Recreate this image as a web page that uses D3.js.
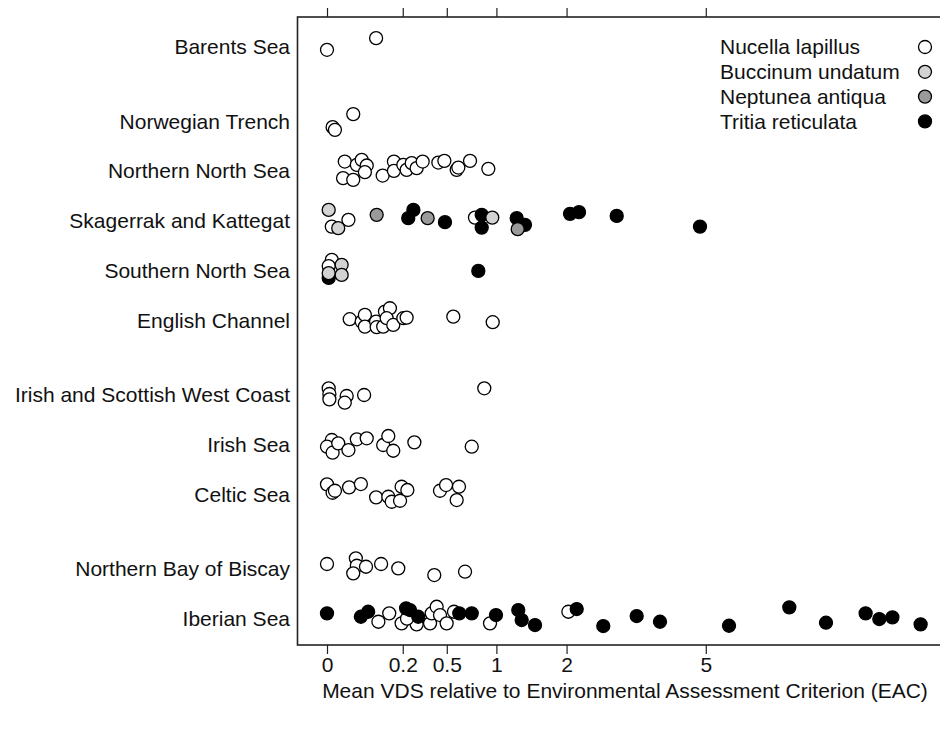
<!DOCTYPE html>
<html>
<head>
<meta charset="utf-8">
<script src="https://cdn.jsdelivr.net/npm/d3@7"></script>
<style>
body{margin:0;background:#fff}
svg{display:block;font-family:"Liberation Sans",Arial,sans-serif}
</style>
</head>
<body>
<svg id="chart" width="940" height="729"></svg>
<script>
var regions = ["Barents Sea", "Norwegian Trench", "Northern North Sea", "Skagerrak and Kattegat",
  "Southern North Sea", "English Channel", "Irish and Scottish West Coast", "Irish Sea",
  "Celtic Sea", "Northern Bay of Biscay", "Iberian Sea"];
var regionGroup = [1, 2, 2, 2, 2, 2, 3, 3, 3, 4, 4]; // OSPAR region, gap between groups
var speciesNames = ["Nucella lapillus", "Buccinum undatum", "Neptunea antiqua", "Tritia reticulata"];
var tickValues = [0, 0.2, 0.5, 1, 2, 5];
var xTitle = "Mean VDS relative to Environmental Assessment Criterion (EAC)";

// [region index, mean VDS / EAC, jitter]
var nucella = [
  [0, 0.00, 0.06], [0, 0.084, -0.175],
  [1, 0.0011, 0.115], [1, 0.0022, 0.17], [1, 0.024, -0.147],
  [2, 0.011, -0.193], [2, 0.009, 0.141], [2, 0.024, 0.175], [2, 0.031, -0.127], [2, 0.042, -0.227],
  [2, 0.055, -0.113], [2, 0.050, 0.02], [2, 0.108, 0.089], [2, 0.156, -0.193], [2, 0.156, -0.006],
  [2, 0.203, -0.127], [2, 0.221, -0.026], [2, 0.25, -0.161], [2, 0.28, -0.06], [2, 0.319, -0.193],
  [2, 0.432, -0.173], [2, 0.48, -0.207], [2, 0.586, -0.026], [2, 0.601, -0.072], [2, 0.713, -0.207],
  [2, 0.907, -0.046],
  [3, 0.0008, 0.115], [3, 0.016, -0.02], [3, 0.763, -0.066],
  [4, 0.0008, -0.215], [4, 0.0001, -0.09],
  [5, 0.018, -0.022], [5, 0.042, 0.026], [5, 0.050, -0.109], [5, 0.050, 0.127], [5, 0.084, 0.026],
  [5, 0.086, 0.139], [5, 0.11, 0.127], [5, 0.117, -0.175], [5, 0.138, -0.243], [5, 0.124, -0.042],
  [5, 0.153, 0.093], [5, 0.203, -0.042], [5, 0.221, -0.054], [5, 0.556, -0.074], [5, 0.957, 0.038],
  [6, 0.0001, -0.133], [6, 0.0002, -0.018], [6, 0.0002, 0.089], [6, 0.0135, 0.022], [6, 0.011, 0.157],
  [6, 0.048, 0.002], [6, 0.862, -0.133],
  [7, 0.0008, -0.093], [7, 0.00, 0.042], [7, 0.0011, 0.163], [7, 0.0044, -0.026], [7, 0.016, 0.109],
  [7, 0.031, -0.107], [7, 0.055, -0.127], [7, 0.11, 0.008], [7, 0.131, -0.173], [7, 0.153, 0.123],
  [7, 0.266, -0.046], [7, 0.73, 0.042],
  [8, 0.00, -0.201], [8, 0.0011, -0.032], [8, 0.0022, -0.072], [8, 0.017, -0.141], [8, 0.040, -0.207],
  [8, 0.084, 0.06], [8, 0.131, 0.048], [8, 0.146, 0.149], [8, 0.186, 0.129], [8, 0.194, -0.153],
  [8, 0.225, -0.087], [8, 0.445, -0.072], [8, 0.494, -0.187], [8, 0.607, -0.153], [8, 0.586, 0.115],
  [9, 0.00, -0.099], [9, 0.029, -0.213], [9, 0.031, -0.064], [9, 0.024, 0.089], [9, 0.053, -0.044],
  [9, 0.102, -0.099], [9, 0.177, -0.012], [9, 0.401, 0.123], [9, 0.664, 0.056],
  [10, 0.092, 0.062], [10, 0.135, -0.107], [10, 0.194, 0.095], [10, 0.28, 0.115], [10, 0.37, 0.095],
  [10, 0.382, -0.107], [10, 0.419, -0.239], [10, 0.445, -0.072], [10, 0.499, 0.095], [10, 0.562, -0.139],
  [10, 0.223, 0.0], [10, 0.926, 0.095], [10, 2.03, -0.139]
];
var buccinum = [
  [3, 0.0001, -0.221], [3, 0.0044, 0.147], [3, 0.952, -0.066],
  [4, 0.0001, 0.052], [4, 0.0075, -0.115], [4, 0.0075, 0.087]
];
var neptunea = [
  [3, 0.086, -0.121], [3, 0.353, -0.054], [3, 1.267, 0.167]
];
var tritia = [
  [3, 0.26, -0.221], [3, 0.23, -0.054], [3, 0.485, 0.026], [3, 0.834, -0.121], [3, 0.834, 0.135],
  [3, 1.254, -0.054], [3, 1.366, 0.08], [3, 2.058, -0.141], [3, 2.213, -0.175], [3, 2.925, -0.1],
  [3, 4.848, 0.115],
  [4, 0.0001, 0.147], [4, 0.798, 0.006],
  [10, 0.00, -0.107], [10, 0.040, -0.038], [10, 0.059, -0.139], [10, 0.218, -0.207], [10, 0.24, -0.173],
  [10, 0.29, -0.038], [10, 0.61, -0.107], [10, 0.73, -0.107], [10, 0.995, -0.072], [10, 1.275, -0.173],
  [10, 1.321, 0.028], [10, 1.508, 0.129], [10, 2.173, -0.193], [10, 2.66, 0.149], [10, 3.342, -0.052],
  [10, 3.864, 0.062], [10, 5.632, 0.143], [10, 7.448, -0.227], [10, 8.677, 0.082], [10, 10.11, -0.107],
  [10, 10.63, 0.008], [10, 11.14, -0.026], [10, 12.28, 0.115]
];
var speciesData = [nucella, buccinum, neptunea, tritia];
var speciesFill = ["#ffffff", "#d3d3d3", "#9a9a9a", "#000000"];
var drawOrder = [0, 3, 1, 2];

var svg = d3.select("#chart");
var box = {left: 297.5, right: 952, top: 17, bottom: 645};
var fontSize = 21;

var x = d3.scaleSqrt().domain([0, 13]).range([327, 327 + 169.4 * Math.sqrt(13)]);
var y = d3.scaleLinear().domain([-0.6, 12.03]).range([box.top, box.bottom]);
var rowPos = regions.map(function(d, i) { return i + 0.5 * (regionGroup[i] - 1); });

// frame
svg.append("rect")
  .attr("x", box.left).attr("y", box.top)
  .attr("width", box.right - box.left).attr("height", box.bottom - box.top)
  .attr("fill", "none").attr("stroke", "#222").attr("stroke-width", 1.6);

// axes top + bottom
var bottomAxis = d3.axisBottom(x).tickValues(tickValues).tickSize(9).tickPadding(3)
  .tickFormat(d3.format("~g"));
var gb = svg.append("g").attr("transform", "translate(0," + box.bottom + ")").call(bottomAxis);
gb.select(".domain").remove();
gb.selectAll("text").attr("font-size", fontSize).attr("font-family", "inherit").attr("fill", "#111");
gb.selectAll("line").attr("stroke", "#222").attr("stroke-width", 1.2);

var topAxis = d3.axisTop(x).tickValues(tickValues).tickSize(9).tickFormat("");
var gt = svg.append("g").attr("transform", "translate(0," + box.top + ")").call(topAxis);
gt.select(".domain").remove();
gt.selectAll("line").attr("stroke", "#222").attr("stroke-width", 1.2);

svg.append("text")
  .attr("x", 625).attr("y", 698)
  .attr("text-anchor", "middle").attr("font-size", fontSize).attr("fill", "#111")
  .text(xTitle);

// region labels
svg.append("g").selectAll("text").data(regions).join("text")
  .attr("x", 290).attr("y", function(d, i) { return y(rowPos[i]); })
  .attr("dy", "0.35em").attr("text-anchor", "end")
  .attr("font-size", fontSize).attr("fill", "#111")
  .text(function(d) { return d; });

// points
drawOrder.forEach(function(s) {
  svg.append("g").selectAll("circle").data(speciesData[s]).join("circle")
    .attr("cx", function(d) { return x(d[1]); })
    .attr("cy", function(d) { return y(rowPos[d[0]] + d[2]); })
    .attr("r", 6.5)
    .attr("fill", speciesFill[s])
    .attr("stroke", "#000").attr("stroke-width", 1.3);
});

// legend
var leg = svg.append("g").selectAll("g").data(speciesNames).join("g")
  .attr("transform", function(d, i) { return "translate(0," + (47 + i * 24.8) + ")"; });
leg.append("text").attr("x", 720).attr("dy", "0.35em")
  .attr("font-size", fontSize).attr("fill", "#111").text(function(d) { return d; });
leg.append("circle").attr("cx", 925).attr("r", 6.5)
  .attr("fill", function(d, i) { return speciesFill[i]; })
  .attr("stroke", "#000").attr("stroke-width", 1.3);
</script>
</body>
</html>
